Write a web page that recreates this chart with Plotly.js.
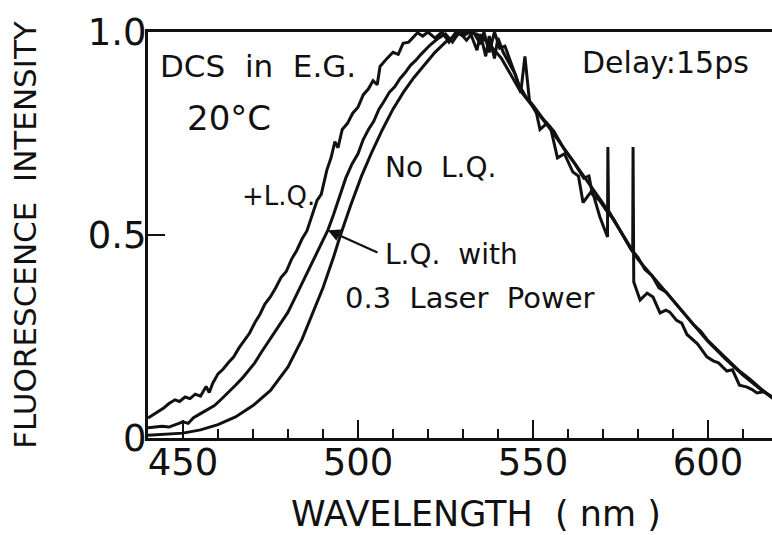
<!DOCTYPE html>
<html>
<head>
<meta charset="utf-8">
<script src="https://cdn.plot.ly/plotly-3.0.1.min.js"></script>
<style>
  html, body { margin: 0; padding: 0; background: #fff; }
  #chart { width: 772px; height: 535px; }
</style>
</head>
<body>
<div id="chart"></div>
<script>
// +L.Q. (noisy, leftmost on rise)
const lqX = [440, 441.5, 443, 444.5, 446, 447.7, 449, 450.6, 452, 453.5, 455, 456.6, 457.5, 458.5, 460, 461.5, 463, 464.5, 466, 467.7, 469, 470.6, 472, 473.4, 475, 476.5, 478, 479.5, 481, 482.5, 484, 485.4, 486.5, 488.3, 489.5, 491.1, 492.3, 493.4, 494.3, 495.5, 497, 498.5, 500, 501.5, 503, 504.3, 505.5, 506.3, 508.3, 510, 511.5, 512.9, 514.5, 515.7, 517, 518.5, 520, 522, 524, 526, 528, 530, 532, 534, 535, 536.5, 537.5, 539, 540, 541.5, 543, 545, 546.5, 547.7, 549, 551, 552, 554, 555, 557, 559, 561.4, 563, 564.3, 566.9, 569.1, 571.3, 571.4, 571.6, 574, 576, 578, 580, 582, 584, 586, 588, 590, 592, 594, 596, 598, 600, 603, 606, 609, 612, 615, 619];
const lqY = [0.049, 0.057, 0.066, 0.074, 0.085, 0.094, 0.09, 0.101, 0.097, 0.108, 0.103, 0.127, 0.112, 0.135, 0.158, 0.17, 0.186, 0.2, 0.222, 0.242, 0.258, 0.285, 0.305, 0.33, 0.348, 0.37, 0.395, 0.41, 0.44, 0.462, 0.49, 0.51, 0.54, 0.585, 0.6, 0.66, 0.69, 0.73, 0.715, 0.76, 0.775, 0.8, 0.815, 0.845, 0.86, 0.88, 0.87, 0.915, 0.935, 0.95, 0.945, 0.972, 0.975, 0.985, 0.998, 0.99, 1.0, 0.985, 1.0, 0.975, 1.0, 0.99, 1.0, 0.955, 0.995, 0.94, 0.99, 0.935, 0.985, 0.95, 0.925, 0.895, 0.85, 0.94, 0.83, 0.8, 0.76, 0.775, 0.765, 0.69, 0.7, 0.655, 0.645, 0.58, 0.61, 0.545, 0.495, 0.717, 0.56, 0.525, 0.495, 0.465, 0.445, 0.415, 0.4, 0.37, 0.36, 0.34, 0.318, 0.3, 0.278, 0.262, 0.24, 0.215, 0.19, 0.165, 0.145, 0.122, 0.095];

// L.Q. with 0.3 laser power (noisy, middle)
const lpX = [440, 442, 444, 446, 448, 450, 451.5, 453, 455, 457, 459, 461, 463, 465, 467, 468.6, 470.5, 472.3, 474, 476.3, 478, 480, 482, 484, 486, 488, 490, 491.4, 493, 495, 496.5, 498.3, 500, 501.5, 503, 504.5, 506, 507.5, 509, 510.5, 512, 513.5, 515, 516.5, 518, 520.6, 523, 525, 527, 529, 531, 533, 535, 536, 537.5, 539, 540.5, 542, 544, 546, 548, 550, 553, 556, 559, 562, 564.5, 566, 567, 569, 571, 573, 575, 577, 578.5, 578.6, 578.8, 580.6, 582.6, 584.3, 586.3, 588, 589.1, 591, 592.5, 594, 595.7, 597, 599.7, 601.5, 603, 605.4, 607, 609, 611, 612.5, 614, 616, 619];
const lpY = [0.025, 0.027, 0.029, 0.027, 0.034, 0.04, 0.036, 0.05, 0.06, 0.07, 0.08, 0.096, 0.112, 0.13, 0.148, 0.165, 0.185, 0.21, 0.232, 0.26, 0.285, 0.31, 0.345, 0.38, 0.415, 0.45, 0.485, 0.512, 0.55, 0.6, 0.64, 0.675, 0.7, 0.735, 0.76, 0.78, 0.81, 0.83, 0.852, 0.865, 0.885, 0.9, 0.918, 0.93, 0.945, 0.968, 0.985, 0.995, 0.975, 1.0, 0.98, 1.0, 0.97, 1.0, 0.95, 1.0, 0.96, 0.965, 0.92, 0.87, 0.84, 0.82, 0.785, 0.755, 0.71, 0.675, 0.64, 0.645, 0.6, 0.585, 0.56, 0.54, 0.51, 0.48, 0.458, 0.717, 0.384, 0.34, 0.357, 0.347, 0.308, 0.315, 0.31, 0.29, 0.283, 0.255, 0.241, 0.232, 0.2, 0.19, 0.185, 0.165, 0.168, 0.13, 0.126, 0.12, 0.111, 0.114, 0.098];

// No L.Q. (smooth, rightmost on rise)
const noX = [440, 445, 450, 455, 460, 465, 470, 475, 480, 484, 487, 490, 493, 495, 498, 501, 504, 507, 510, 513, 516, 519, 522, 525, 528, 531, 534, 537, 541, 546, 550, 555, 560, 565, 570, 575, 580, 585, 590, 595, 600, 605, 610, 615, 619];
const noY = [0.007, 0.009, 0.012, 0.02, 0.033, 0.052, 0.08, 0.117, 0.175, 0.243, 0.305, 0.37, 0.445, 0.5, 0.575, 0.645, 0.705, 0.76, 0.81, 0.852, 0.888, 0.92, 0.95, 0.975, 0.993, 1.0, 0.995, 0.975, 0.935, 0.86, 0.815, 0.76, 0.7, 0.64, 0.578, 0.51, 0.44, 0.39, 0.34, 0.288, 0.238, 0.195, 0.155, 0.12, 0.095];

const yTickVals = [0, 0.5, 1];
const yTickText = ['0', '0.5', '1.0'];

const FONT = 'DejaVu Sans, sans-serif';
const INK = '#111';
const lineStyle = {color: INK, width: 3};

const traces = [
  {x: lqX, y: lqY, name: '+L.Q.', type: 'scatter', mode: 'lines', line: lineStyle},
  {x: lpX, y: lpY, name: 'L.Q. with 0.3 Laser Power', type: 'scatter', mode: 'lines', line: lineStyle},
  {x: noX, y: noY, name: 'No L.Q.', type: 'scatter', mode: 'lines', line: lineStyle}
];

function label(text, x, y, size) {
  return {text: text, x: x, y: y, xref: 'x', yref: 'y', xanchor: 'left', yanchor: 'middle',
          showarrow: false, font: {family: FONT, size: size, color: INK}};
}

const layout = {
  width: 772, height: 535,
  margin: {l: 148, r: 0, t: 32, b: 97},
  paper_bgcolor: '#fff', plot_bgcolor: '#fff',
  showlegend: false,
  font: {family: FONT, color: INK},
  xaxis: {
    range: [440, 618.3],
    showline: true, linewidth: 3, linecolor: INK, mirror: true,
    showgrid: false, zeroline: false,
    tickmode: 'linear', tick0: 450, dtick: 50,
    ticks: 'inside', ticklen: 18, tickwidth: 2.5, tickcolor: INK,
    minor: {dtick: 10, tick0: 440, ticks: 'inside', ticklen: 9, tickwidth: 2, tickcolor: INK, showgrid: false},
    tickfont: {family: FONT, size: 37, color: INK},
    ticklabelstandoff: -10
  },
  yaxis: {
    range: [0, 1],
    showline: true, linewidth: 3, linecolor: INK,
    showgrid: false, zeroline: false,
    tickmode: 'array', tickvals: yTickVals, ticktext: yTickText,
    ticks: 'inside', ticklen: 17, tickwidth: 2.5, tickcolor: INK,
    tickfont: {family: FONT, size: 37, color: INK},
    ticklabelstandoff: -9,
    title: {text: 'FLUORESCENCE\u00a0\u00a0INTENSITY', font: {family: FONT, size: 31, color: INK}, standoff: 42}
  },
  annotations: [
    {text: 'WAVELENGTH\u00a0\u00a0(\u00a0nm\u00a0)', xref: 'paper', yref: 'paper', x: 0.5256, y: -0.187,
     xanchor: 'center', yanchor: 'middle', showarrow: false, font: {family: FONT, size: 35, color: INK}},
    label('DCS\u00a0\u00a0in\u00a0\u00a0E.G.', 442.9, 0.916, 31),
    label('20°C', 450.6, 0.788, 34),
    label('+L.Q.', 466.3, 0.596, 26),
    label('No\u00a0\u00a0L.Q.', 507.1, 0.667, 28),
    label('L.Q.\u00a0\u00a0with', 507.1, 0.451, 28),
    label('0.3\u00a0\u00a0Laser\u00a0\u00a0Power', 495.7, 0.345, 29),
    label('Delay:15ps', 563.5, 0.924, 30),
    {text: '', x: 491.4, y: 0.512, xref: 'x', yref: 'y', ax: 506, ay: 0.455, axref: 'x', ayref: 'y',
     showarrow: true, arrowhead: 2, arrowsize: 1.1, arrowwidth: 2.2, arrowcolor: INK, standoff: 0}
  ]
};

Plotly.newPlot('chart', traces, layout, {displayModeBar: false, staticPlot: true});
</script>
</body>
</html>
